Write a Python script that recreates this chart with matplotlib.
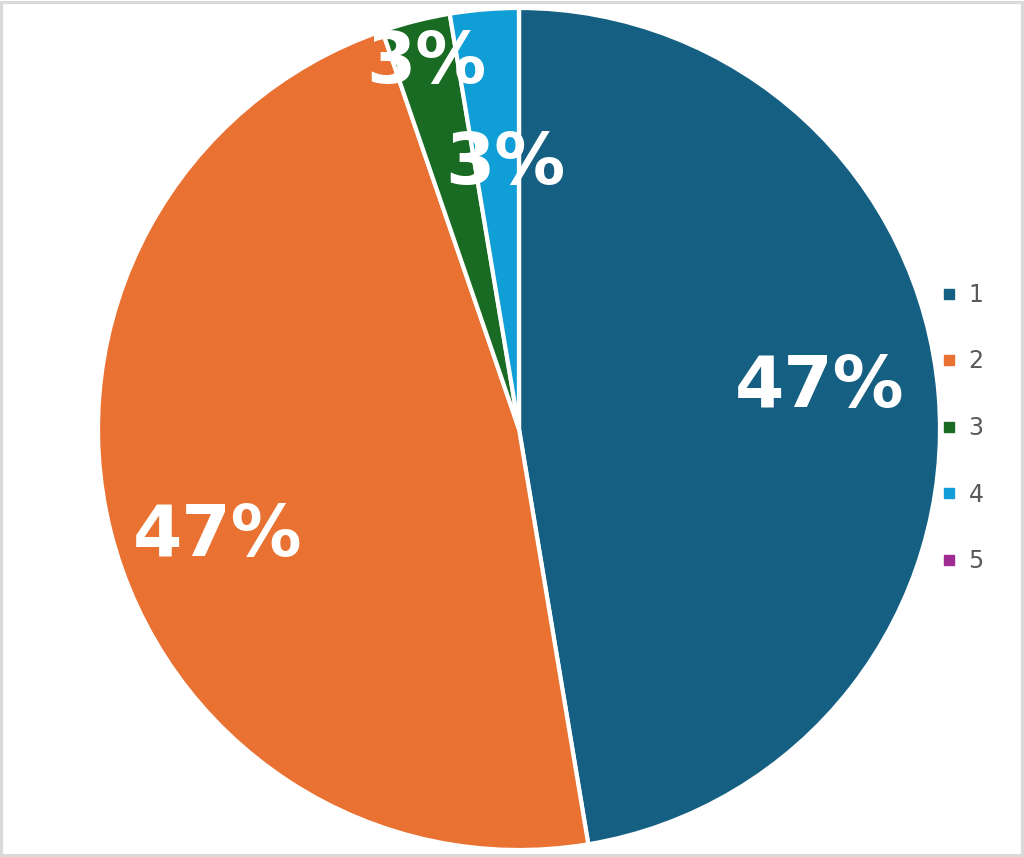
import numpy as np
import matplotlib
matplotlib.use("Agg")
import matplotlib.pyplot as plt
from matplotlib.lines import Line2D
from matplotlib.patches import Rectangle

categories = ["1", "2", "3", "4", "5"]
values = [18, 18, 1, 1, 0]
colors = ["#156082", "#E97132", "#196B24", "#0F9ED5", "#A02B93"]

# label placement (radius fraction, angle offset in deg) per slice
label_pos = [(0.72, 3.2), (0.76, 5.5), (0.895, 0.0), (0.63, -1.7), None]

fig = plt.figure(figsize=(10.24, 8.57), dpi=100)
fig.patch.set_facecolor("white")
fig.add_artist(Rectangle((0.001, 0.002), 0.997, 0.996, transform=fig.transFigure,
                         fill=False, edgecolor="#d9d9d9", linewidth=2.2))

ax = fig.add_axes([98/1024, 7/857, 842/1024, 842/857])
wedges, _ = ax.pie(values, colors=colors, startangle=90, counterclock=False,
                   radius=1.0,
                   wedgeprops=dict(edgecolor="white", linewidth=3.0))
ax.set_xlim(-1, 1)
ax.set_ylim(-1, 1)
ax.set_aspect("equal")
ax.axis("off")

total = sum(values)
for w, v, pos in zip(wedges, values, label_pos):
    if pos is None or v == 0:
        continue
    r, off = pos
    mid = np.deg2rad((w.theta1 + w.theta2) / 2 + off)
    ax.text(r*np.cos(mid), r*np.sin(mid), f"{v/total*100:.0f}%",
            ha="center", va="center", color="white", fontsize=51,
            fontweight="bold", family="DejaVu Sans")

handles = [Line2D([], [], marker="s", linestyle="none", markersize=7.5,
                  markerfacecolor=c, markeredgecolor=c) for c in colors]
fig.legend(handles, categories, loc="center left",
           bbox_to_anchor=(933/1024, 1 - 428/857), frameon=False,
           fontsize=17, labelcolor="#595959", labelspacing=1.8,
           handlelength=0.55, handletextpad=0.55, borderaxespad=0)

fig.savefig("out.png", dpi=100, facecolor="white")
